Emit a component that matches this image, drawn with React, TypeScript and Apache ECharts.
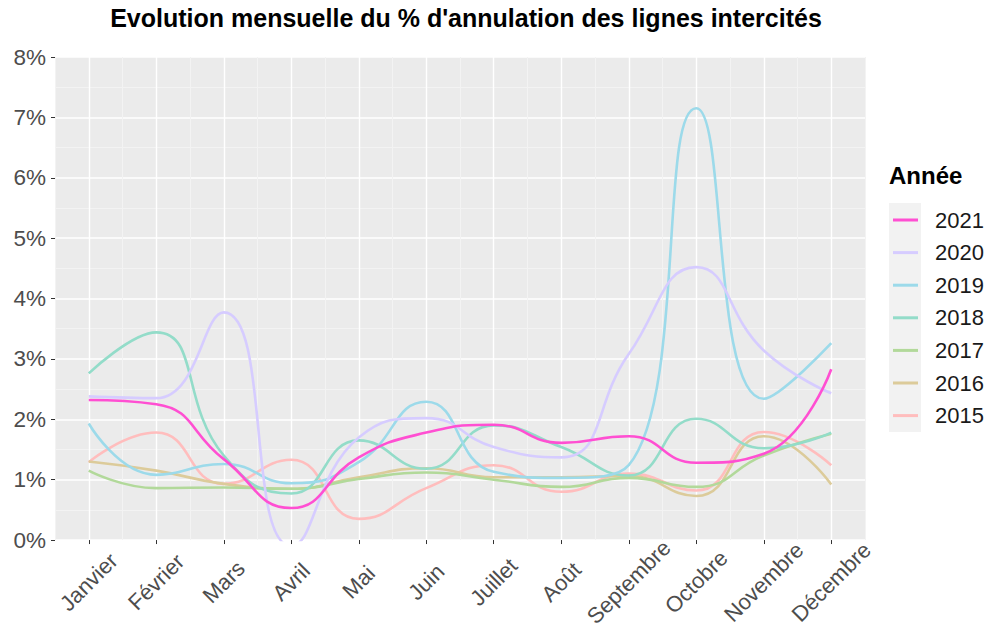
import React, { useEffect, useRef } from "react";
import * as echarts from "echarts";

const months = ["Janvier", "Février", "Mars", "Avril", "Mai", "Juin", "Juillet", "Août", "Septembre", "Octobre", "Novembre", "Décembre"];
const yTicks = [0, 1, 2, 3, 4, 5, 6, 7, 8];

const v2021 = [2.32, 2.25, 1.34, 0.53, 1.37, 1.78, 1.91, 1.61, 1.72, 1.28, 1.43, 2.83];
const v2020 = [2.38, 2.35, 3.77, -0.1, 1.7, 2.02, 1.54, 1.37, 3.08, 4.52, 3.14, 2.43];
const v2019 = [1.93, 1.08, 1.26, 0.94, 1.29, 2.29, 1.13, 1.03, 1.24, 7.15, 2.34, 3.26];
const v2018 = [2.76, 3.44, 1.4, 0.77, 1.65, 1.18, 1.9, 1.54, 1.07, 2.01, 1.52, 1.78];
const v2017 = [1.15, 0.86, 0.87, 0.85, 1.01, 1.12, 1.0, 0.88, 1.03, 0.88, 1.4, 1.76];
const v2016 = [1.3, 1.15, 0.93, 0.85, 1.04, 1.19, 1.04, 1.04, 1.06, 0.73, 1.72, 0.92];
const v2015 = [1.29, 1.78, 0.93, 1.33, 0.35, 0.86, 1.24, 0.8, 1.1, 0.82, 1.79, 1.24];

const years = ["2021", "2020", "2019", "2018", "2017", "2016", "2015"];
const yearValues = [v2021, v2020, v2019, v2018, v2017, v2016, v2015];
const yearColors = ["#ff4fd2", "#d6ccff", "#9cdaea", "#93dcc9", "#b2d99a", "#dccb9a", "#ffbdbd"];

const titleText = "Evolution mensuelle du % d'annulation des lignes intercités";
const legendTitle = "Année";

const FONT = "'Liberation Sans', Arial, Helvetica, sans-serif";

export default function App() {
  const ref = useRef<HTMLDivElement>(null);

  useEffect(() => {
    if (!ref.current) return;
    const chart = echarts.init(ref.current, undefined, { renderer: "svg" });

    const lineSeries = years
      .map((y, i) => ({
        name: y,
        type: "line",
        data: yearValues[i],
        smooth: 0.5,
        showSymbol: false,
        symbol: "none",
        clip: true,
        z: 3 + (years.length - i),
        lineStyle: { color: yearColors[i], width: 2.6 },
        itemStyle: { color: yearColors[i] },
        emphasis: { disabled: true },
      }))
      .reverse();

    const option: any = {
      animation: false,
      backgroundColor: "#ffffff",
      textStyle: { fontFamily: FONT },
      grid: {
        left: 55,
        right: 127,
        top: 57,
        bottom: 88.5,
        show: true,
        backgroundColor: "#ebebeb",
        borderWidth: 0,
        containLabel: false,
      },
      xAxis: {
        type: "category",
        data: months,
        boundaryGap: true,
        axisLine: { show: false },
        axisTick: { show: true, alignWithLabel: true, length: 4, lineStyle: { color: "#333333", width: 1 } },
        axisLabel: {
          interval: 0,
          rotate: 45,
          align: "center",
          verticalAlign: "middle",
          margin: 42,
          fontSize: 22,
          color: "#4d4d4d",
          fontFamily: FONT,
        },
        splitLine: { show: true, lineStyle: { color: "#f3f3f3", width: 1 } },
      },
      yAxis: {
        type: "value",
        min: yTicks[0],
        max: yTicks[yTicks.length - 1],
        interval: 1,
        axisLine: { show: false },
        axisTick: { show: true, length: 4, lineStyle: { color: "#333333", width: 1 } },
        axisLabel: {
          formatter: "{value}%",
          fontSize: 22.5,
          color: "#4d4d4d",
          margin: 9,
          fontFamily: FONT,
        },
        splitLine: { show: true, lineStyle: { color: "#ffffff", width: 1.6 } },
        minorTick: { show: false, splitNumber: 2 },
        minorSplitLine: { show: true, lineStyle: { color: "#f3f3f3", width: 1 } },
      },
      legend: {
        data: years,
        orient: "vertical",
        left: 893,
        top: 203.7,
        padding: 0,
        itemGap: 0,
        itemWidth: 25,
        itemHeight: 3,
        icon: "rect",
        selectedMode: false,
        textStyle: {
          fontSize: 22,
          color: "#1a1a1a",
          lineHeight: 32.6,
          padding: [0, 0, 0, 12],
          fontFamily: FONT,
        },
      },
      graphic: [
        {
          type: "text",
          x: 466,
          y: 5,
          z: 10,
          style: {
            text: titleText,
            align: "center",
            verticalAlign: "top",
            font: `bold 25px ${FONT}`,
            fill: "#000000",
          },
        },
        {
          type: "text",
          x: 889,
          y: 163,
          z: 10,
          style: {
            text: legendTitle,
            align: "left",
            verticalAlign: "top",
            font: `bold 24px ${FONT}`,
            fill: "#000000",
          },
        },
        {
          type: "rect",
          z: 0,
          shape: { x: 889, y: 203, width: 32, height: 229 },
          style: { fill: "#f2f2f2" },
        },
      ],
      series: [
        {
          name: "_grid",
          type: "line",
          data: [],
          silent: true,
          z: 1,
          markLine: {
            silent: true,
            z: 1,
            symbol: ["none", "none"],
            label: { show: false },
            emphasis: { disabled: true },
            lineStyle: { color: "#ffffff", width: 1.4, type: "solid" },
            data: months.map((m) => ({ xAxis: m })),
          },
        },
        ...lineSeries,
      ],
    };

    chart.setOption(option);
    return () => {
      chart.dispose();
    };
  }, []);

  return (
    <div
      ref={ref}
      style={{ position: "fixed", left: 0, top: 0, width: 992, height: 630, background: "#ffffff" }}
    />
  );
}
